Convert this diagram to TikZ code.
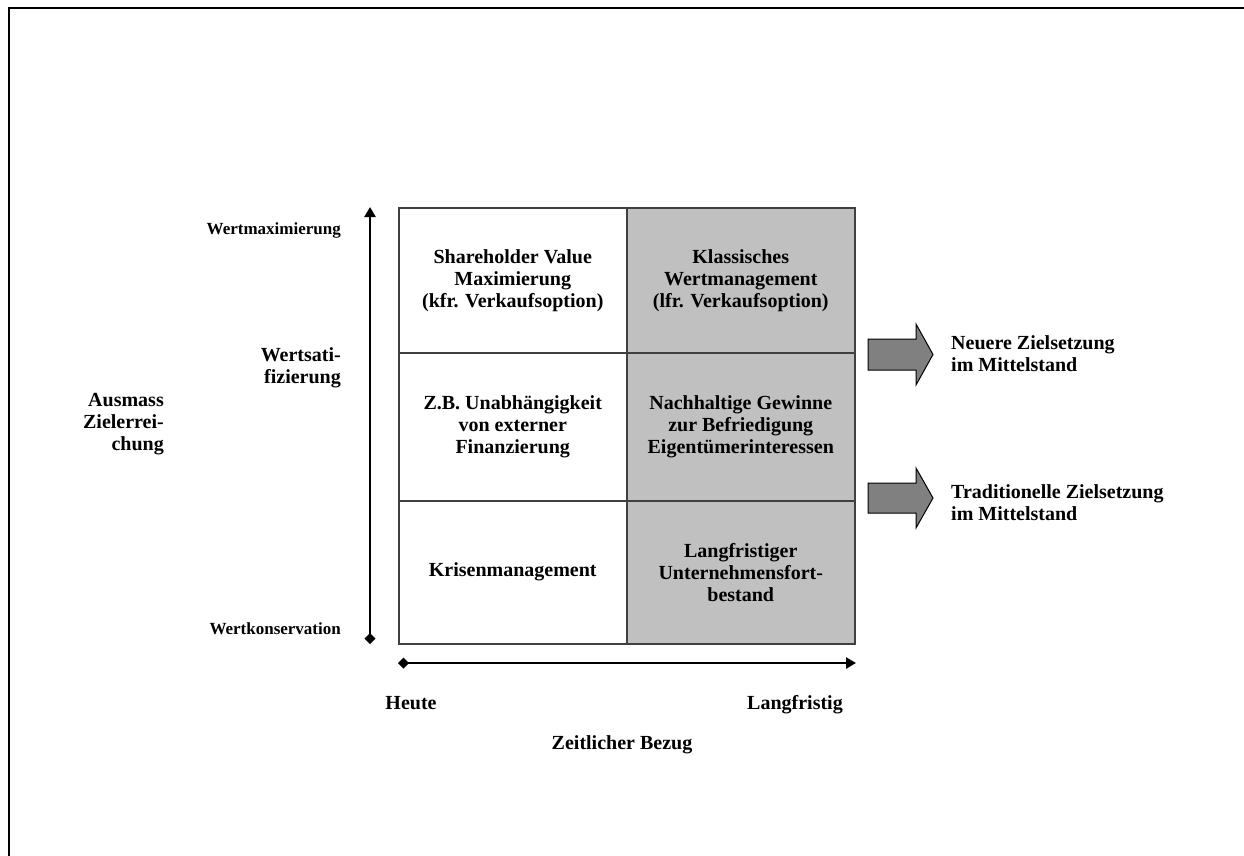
\documentclass[tikz,border=0pt]{standalone}
\usepackage{fontspec}
\setmainfont{Liberation Serif}
\usetikzlibrary{arrows.meta}
\definecolor{cellgray}{HTML}{C0C0C0}
\definecolor{arrowgray}{HTML}{808080}
\definecolor{gridline}{HTML}{404040}
\begin{document}
\begin{tikzpicture}[x=1pt,y=-1pt,
  every node/.style={font=\fontsize{20}{22}\selectfont\bfseries, inner sep=0pt},
  smalltext/.style={font=\fontsize{17}{22}\selectfont\bfseries},
  cell/.style={draw=gridline, line width=1.5pt, anchor=north west, align=center},
  whitecell/.style={cell, fill=white},
  graycell/.style={cell, fill=cellgray},
  axis/.style={line width=2.6pt, {Diamond[length=11pt,width=11pt]}-{Triangle[length=10pt,width=11pt]}},
  blockarrow/.style={draw=black, line width=1pt, fill=arrowgray},
  leftlabel/.style={anchor=east, align=right},
  baselabel/.style={anchor=base},
  rightlabel/.style={anchor=west, align=left}]
\useasboundingbox (0,0) rectangle (1244,856);

% frame along the left and top edges
\draw[line width=2.2pt] (9,856) -- (9,8) -- (1244,8);

% matrix of cells
\node[whitecell, minimum width=228pt, minimum height=145pt] (c11) at (398,207)
  {Shareholder Value\\Maximierung\\(kfr. Verkaufsoption)};
\node[whitecell, minimum width=228pt, minimum height=148pt] (c21) at (398,352)
  {Z.B. Unabhängigkeit\\von externer\\Finanzierung};
\node[whitecell, minimum width=228pt, minimum height=143pt] (c31) at (398,500)
  {Krisenmanagement};
\node[graycell, minimum width=228pt, minimum height=145pt] (c12) at (626,207)
  {Klassisches\\Wertmanagement\\(lfr. Verkaufsoption)};
\node[graycell, minimum width=228pt, minimum height=148pt] (c22) at (626,352)
  {Nachhaltige Gewinne\\zur Befriedigung\\Eigentümerinteressen};
\node[graycell, minimum width=228pt, minimum height=143pt] (c32) at (626,500)
  {Langfristiger\\Unternehmensfort-\\bestand};

% axes
\coordinate (ybot) at (370,644);
\coordinate (ytop) at (370,207);
\coordinate (xleft) at (398,663);
\coordinate (xright) at (856,663);
\draw[axis] (ybot) -- (ytop);
\draw[axis] (xleft) -- (xright);

% vertical axis labels
\node[smalltext, anchor=base east] (vmax) at (341,234) {Wertmaximierung};
\node[leftlabel] (vsat) at (341,368) {Wertsati-\\fizierung};
\node[smalltext, anchor=base east] (vkon) at (341,634) {Wertkonservation};
\node[leftlabel] (vtitle) at (164,424) {Ausmass\\Zielerrei-\\chung};

% horizontal axis labels
\node[baselabel] (heute) at (411,709) {Heute};
\node[baselabel] (lang) at (795,709) {Langfristig};
\node[baselabel] (zeit) at (622,749) {Zeitlicher Bezug};

% block arrows towards the objectives
\filldraw[blockarrow] (868,339) -- (916,339) -- (916,324) -- (933,354.5)
  -- (916,385) -- (916,370) -- (868,370) -- cycle;
\filldraw[blockarrow] (868,483) -- (916,483) -- (916,468) -- (933,498)
  -- (916,528) -- (916,513) -- (868,513) -- cycle;
\node[rightlabel] (neu) at (951,354) {Neuere Zielsetzung\\im Mittelstand};
\node[rightlabel] (trad) at (951,503) {Traditionelle Zielsetzung\\im Mittelstand};
\end{tikzpicture}
\end{document}
